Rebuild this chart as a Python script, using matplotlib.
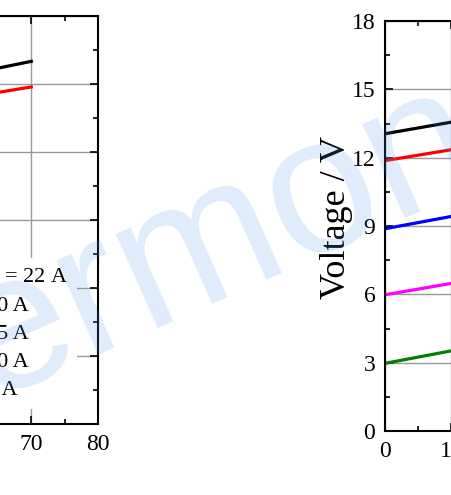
import numpy as np
import matplotlib
matplotlib.use("Agg")
import matplotlib.pyplot as plt
from matplotlib.ticker import MultipleLocator

plt.rcParams['font.family'] = ['Liberation Serif', 'DejaVu Serif']
plt.rcParams['mathtext.fontset'] = 'stix'

# Data
currents = ["$I$  = 22 A", "20 A", "15 A", "10 A", "5 A"]
colors = ["black", "red", "blue", "magenta", "green"]

# left panel - only the tail end is visible
t_left = [0, 10, 20, 30, 40, 50, 60, 65, 70]
v_left = [
    [13.0, 13.5, 13.9, 14.3, 14.7, 15.05, 15.4, 15.7, 16.0],
    [11.9, 12.3, 12.7, 13.1, 13.45, 13.8, 14.3, 14.63, 14.87],
    [8.9, 9.3, 9.7, 10.1, 10.5, 10.8, 11.1, None, None],
    [6.0, 6.4, 6.8, 7.1, 7.4, 7.6, None, None, None],
    [3.0, 3.4, 3.8, 4.1, 4.3, None, None, None, None],
]

# right panel - only the first ~10 units are visible
t_right = [0, 10, 20, 30, 40, 50, 60, 70]
v_right = [
    [13.05, 13.56, 14.0, 14.4, 14.8, 15.2, 15.6, 16.0],
    [11.87, 12.35, 12.8, 13.2, 13.6, 14.0, 14.4, 14.8],
    [8.88, 9.42, 9.9, 10.3, 10.7, 11.0, 11.3, 11.6],
    [5.98, 6.48, 6.9, 7.3, 7.6, 7.9, 8.1, 8.3],
    [2.97, 3.52, 3.9, 4.2, 4.4, 4.6, 4.7, 4.8],
]

W, H = 451, 495
def px_rect(x0, y0, x1, y1):
    return [x0 / W, 1 - y1 / H, (x1 - x0) / W, (y1 - y0) / H]

fig = plt.figure(figsize=(W / 100, H / 100), dpi=100)

def style_axes(ax):
    ax.set_xlim(0, 80)
    ax.set_ylim(0, 18)
    ax.xaxis.set_major_locator(MultipleLocator(10))
    ax.xaxis.set_minor_locator(MultipleLocator(5))
    ax.yaxis.set_major_locator(MultipleLocator(3))
    ax.yaxis.set_minor_locator(MultipleLocator(1.5))
    ax.tick_params(which='both', direction='in', top=True, right=True, width=1.2, labelsize=17, pad=7)
    ax.tick_params(which='major', length=6)
    ax.tick_params(which='minor', length=3.5)
    ax.grid(True, which='major', color='#999999', linewidth=1.0)
    ax.set_axisbelow(True)
    ax.patch.set_alpha(0)
    for s in ax.spines.values():
        s.set_linewidth(1.5)

# Left panel
ax1 = fig.add_axes(px_rect(97.7 - 531.2, 16, 97.7, 424))
style_axes(ax1)
handles = []
for vals, c, lbl in zip(v_left, colors, currents):
    y = np.array([np.nan if v is None else v for v in vals], dtype=float)
    ln, = ax1.plot(t_left, y, color=c, linewidth=2.3, label=lbl)
    handles.append(ln)

leg = ax1.legend(handles=handles, loc='upper right', bbox_to_anchor=(77 / W, 1 - 258 / H),
                 bbox_transform=fig.transFigure, borderaxespad=0, fontsize=16,
                 labelspacing=0.34, frameon=True, framealpha=1, edgecolor='none', facecolor='white',
                 fancybox=False)
leg.set_zorder(5)

# Right panel
ax2 = fig.add_axes(px_rect(385, 21, 385 + 531.2, 431))
style_axes(ax2)
for vals, c in zip(v_right, colors):
    ax2.plot(t_right, vals, color=c, linewidth=2.3)
ax2.set_ylabel("Voltage / V", fontsize=26)
ax2.yaxis.set_label_coords(-0.061, 0.52)

# watermark
fig.text(-12 / W, 1 - 400 / H, "ermona", rotation=24, rotation_mode='anchor', ha='left', va='baseline',
         fontsize=140, family='Liberation Sans', color=(0.29, 0.59, 0.92), alpha=0.18, zorder=20)

fig.savefig("out.png", dpi=100)
